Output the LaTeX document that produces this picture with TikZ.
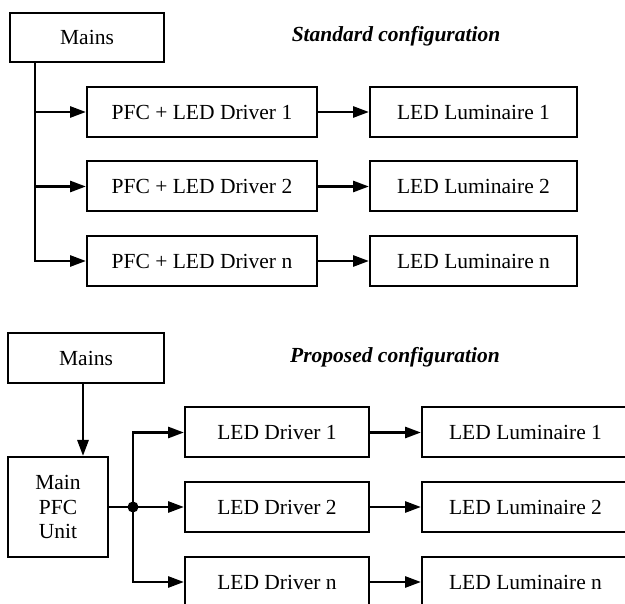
\documentclass[tikz,border=0pt]{standalone}
\usepackage{fontspec}
\setmainfont{Liberation Serif}
\usetikzlibrary{arrows.meta,calc}
\begin{document}
\begin{tikzpicture}[x=1pt,y=-1pt,
  box/.style={draw,line width=2pt,inner sep=0pt,align=center,
    font=\fontsize{21.5}{24.5}\selectfont},
  conn/.style={line width=2.8pt,-{Triangle[length=16pt,width=11pt]}},
  wire/.style={line width=2.8pt},
  title/.style={font=\fontsize{21.5}{24.5}\selectfont\bfseries\itshape}]
\useasboundingbox (0,0) rectangle (625,604);
\clip (0,0) rectangle (625,604);

% Standard configuration
\node[box,minimum width=154pt,minimum height=49pt] (m1) at (87,37.5) {Mains};
\node[title] (t1) at (396,36) {Standard configuration};
\node[box,minimum width=230pt,minimum height=50pt] (p1) at (202,112) {PFC + LED Driver 1};
\node[box,minimum width=230pt,minimum height=50pt] (p2) at (202,186.5) {PFC + LED Driver 2};
\node[box,minimum width=230pt,minimum height=50pt] (pn) at (202,261) {PFC + LED Driver n};
\node[box,minimum width=207pt,minimum height=50pt] (l1) at (473.5,112) {LED Luminaire 1};
\node[box,minimum width=207pt,minimum height=50pt] (l2) at (473.5,186.5) {LED Luminaire 2};
\node[box,minimum width=207pt,minimum height=50pt] (ln) at (473.5,261) {LED Luminaire n};
\foreach \p in {p1,p2,pn}
  \draw[conn] ([xshift=26pt]m1.south west) |- (\p.west);
\draw[conn] (p1) -- (l1);
\draw[conn] (p2) -- (l2);
\draw[conn] (pn) -- (ln);

% Proposed configuration
\node[box,minimum width=156pt,minimum height=50pt] (m2) at (86,358) {Mains};
\node[title] (t2) at (395,357) {Proposed configuration};
\node[box,minimum width=100pt,minimum height=100pt] (u) at (58,507) {Main\\PFC\\Unit};
\draw[conn] ([xshift=-3pt]m2.south) -- ([xshift=-3pt]m2.south |- u.north);
\coordinate (j) at (133,507);
\node[box,minimum width=184pt,minimum height=50pt] (d1) at (277,432.5) {LED Driver 1};
\node[box,minimum width=184pt,minimum height=50pt] (d2) at (277,507) {LED Driver 2};
\node[box,minimum width=184pt,minimum height=50pt] (dn) at (277,582) {LED Driver n};
\node[box,minimum width=207pt,minimum height=50pt] (q1) at (525.5,432.5) {LED Luminaire 1};
\node[box,minimum width=207pt,minimum height=50pt] (q2) at (525.5,507) {LED Luminaire 2};
\node[box,minimum width=207pt,minimum height=50pt] (qn) at (525.5,582) {LED Luminaire n};
\draw[wire] (u.east) -- (j);
\foreach \d in {d1,d2,dn}
  \draw[conn] (j) |- (\d.west);
\fill (j) circle (5.5pt);
\draw[conn] (d1) -- (q1);
\draw[conn] (d2) -- (q2);
\draw[conn] (dn) -- (qn);
\end{tikzpicture}
\end{document}
